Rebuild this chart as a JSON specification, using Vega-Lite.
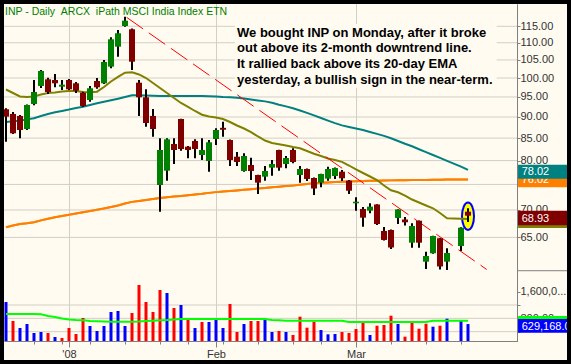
{
  "$schema": "https://vega.github.io/schema/vega-lite/v6.json",
  "width": 513,
  "height": 337,
  "autosize": {"type": "none"},
  "padding": {"left": 4, "top": 4, "right": 54, "bottom": 23},
  "background": "#FFFBF0",
  "config": {"view": {"stroke": null}},
  "datasets": {
    "d": [
      {"i":0,"o":91.90,"h":92.14,"l":84.19,"c":90.08,"v":1290000,"dir":"up","ema":96.94,"m50":88.79,"m200":66.80,"vma":930000},
      {"i":1,"o":90.74,"h":91.23,"l":85.96,"c":86.12,"v":720000,"dir":"down","ema":96.03,"m50":88.96,"m200":67.11,"vma":930000},
      {"i":2,"o":90.25,"h":90.49,"l":84.96,"c":86.89,"v":510000,"dir":"up","ema":95.13,"m50":89.10,"m200":67.40,"vma":930000},
      {"i":3,"o":87.13,"h":93.10,"l":86.89,"c":92.97,"v":630000,"dir":"up","ema":95.00,"m50":89.42,"m200":67.55,"vma":930000},
      {"i":4,"o":93.22,"h":99.46,"l":92.90,"c":96.29,"v":360000,"dir":"up","ema":95.13,"m50":89.71,"m200":67.73,"vma":930000},
      {"i":5,"o":97.87,"h":102.20,"l":97.34,"c":101.92,"v":390000,"dir":"up","ema":95.64,"m50":90.25,"m200":68.06,"vma":921000},
      {"i":6,"o":99.65,"h":100.09,"l":95.77,"c":96.29,"v":360000,"dir":"down","ema":96.03,"m50":90.74,"m200":68.35,"vma":870000},
      {"i":7,"o":99.46,"h":101.09,"l":97.52,"c":98.58,"v":240000,"dir":"up","ema":96.16,"m50":91.15,"m200":68.63,"vma":840000},
      {"i":8,"o":97.68,"h":99.46,"l":96.81,"c":98.21,"v":210000,"dir":"down","ema":96.42,"m50":91.47,"m200":68.87,"vma":795000},
      {"i":9,"o":99.46,"h":99.73,"l":96.81,"c":96.99,"v":510000,"dir":"down","ema":96.55,"m50":91.82,"m200":69.12,"vma":765000},
      {"i":10,"o":98.58,"h":98.93,"l":96.03,"c":96.63,"v":330000,"dir":"down","ema":96.55,"m50":92.22,"m200":69.34,"vma":750000},
      {"i":11,"o":96.11,"h":96.37,"l":92.55,"c":92.72,"v":810000,"dir":"down","ema":96.29,"m50":92.55,"m200":69.57,"vma":741000},
      {"i":12,"o":94.23,"h":97.87,"l":93.80,"c":97.26,"v":570000,"dir":"up","ema":96.21,"m50":92.97,"m200":69.79,"vma":720000},
      {"i":13,"o":99.19,"h":100.00,"l":97.15,"c":97.52,"v":420000,"dir":"up","ema":96.37,"m50":93.40,"m200":70.04,"vma":711000},
      {"i":14,"o":98.58,"h":104.99,"l":98.40,"c":104.43,"v":570000,"dir":"up","ema":97.60,"m50":93.78,"m200":70.29,"vma":705000},
      {"i":15,"o":103.11,"h":111.64,"l":102.66,"c":111.03,"v":990000,"dir":"up","ema":99.06,"m50":94.15,"m200":70.57,"vma":699000},
      {"i":16,"o":108.83,"h":113.86,"l":105.93,"c":112.85,"v":1020000,"dir":"up","ema":100.28,"m50":94.54,"m200":70.86,"vma":699000},
      {"i":17,"o":115.09,"h":118.03,"l":114.88,"c":116.76,"v":570000,"dir":"up","ema":101.45,"m50":95.00,"m200":71.22,"vma":699000},
      {"i":18,"o":114.08,"h":114.30,"l":102.19,"c":104.51,"v":960000,"dir":"down","ema":101.56,"m50":95.46,"m200":71.55,"vma":699000},
      {"i":19,"o":98.74,"h":99.46,"l":90.25,"c":94.92,"v":1800000,"dir":"down","ema":100.96,"m50":95.43,"m200":71.74,"vma":705000},
      {"i":20,"o":94.92,"h":96.99,"l":87.67,"c":88.55,"v":1290000,"dir":"down","ema":100.00,"m50":95.38,"m200":71.93,"vma":720000},
      {"i":21,"o":90.25,"h":91.97,"l":85.34,"c":87.13,"v":990000,"dir":"down","ema":98.66,"m50":95.31,"m200":72.11,"vma":729000},
      {"i":22,"o":74.89,"h":84.96,"l":69.68,"c":82.32,"v":1650000,"dir":"down","ema":97.34,"m50":95.28,"m200":72.28,"vma":741000},
      {"i":23,"o":77.84,"h":84.96,"l":75.77,"c":84.73,"v":1560000,"dir":"up","ema":96.03,"m50":95.26,"m200":72.44,"vma":750000},
      {"i":24,"o":83.67,"h":84.96,"l":79.26,"c":82.32,"v":1110000,"dir":"down","ema":94.74,"m50":95.26,"m200":72.58,"vma":765000},
      {"i":25,"o":89.51,"h":89.60,"l":82.16,"c":82.54,"v":1200000,"dir":"up","ema":93.47,"m50":95.26,"m200":72.71,"vma":780000},
      {"i":26,"o":83.06,"h":83.22,"l":80.49,"c":82.32,"v":780000,"dir":"down","ema":92.47,"m50":95.26,"m200":72.85,"vma":780000},
      {"i":27,"o":84.34,"h":84.73,"l":80.49,"c":82.54,"v":510000,"dir":"up","ema":91.47,"m50":95.26,"m200":72.99,"vma":780000},
      {"i":28,"o":81.21,"h":84.96,"l":80.12,"c":82.32,"v":690000,"dir":"down","ema":90.56,"m50":95.26,"m200":73.13,"vma":780000},
      {"i":29,"o":79.91,"h":84.57,"l":77.63,"c":84.05,"v":690000,"dir":"up","ema":90.12,"m50":95.18,"m200":73.31,"vma":780000},
      {"i":30,"o":84.80,"h":87.29,"l":83.44,"c":86.89,"v":780000,"dir":"up","ema":89.86,"m50":95.10,"m200":73.46,"vma":780000},
      {"i":31,"o":87.40,"h":88.86,"l":85.34,"c":86.95,"v":510000,"dir":"up","ema":89.51,"m50":95.00,"m200":73.58,"vma":780000},
      {"i":32,"o":84.57,"h":84.70,"l":78.84,"c":80.12,"v":1230000,"dir":"down","ema":88.79,"m50":94.95,"m200":73.70,"vma":780000},
      {"i":33,"o":80.84,"h":81.88,"l":78.84,"c":79.69,"v":390000,"dir":"down","ema":87.95,"m50":94.82,"m200":73.80,"vma":780000},
      {"i":34,"o":77.78,"h":81.59,"l":77.63,"c":80.99,"v":630000,"dir":"up","ema":87.24,"m50":94.59,"m200":73.92,"vma":780000},
      {"i":35,"o":79.05,"h":80.62,"l":75.91,"c":77.78,"v":720000,"dir":"down","ema":86.38,"m50":94.33,"m200":74.04,"vma":780000},
      {"i":36,"o":76.94,"h":77.00,"l":73.09,"c":75.36,"v":720000,"dir":"down","ema":85.38,"m50":94.10,"m200":74.18,"vma":780000},
      {"i":37,"o":76.59,"h":78.84,"l":75.77,"c":77.78,"v":750000,"dir":"up","ema":84.46,"m50":93.88,"m200":74.30,"vma":780000},
      {"i":38,"o":78.48,"h":80.12,"l":76.80,"c":79.26,"v":390000,"dir":"up","ema":83.89,"m50":93.52,"m200":74.43,"vma":750000},
      {"i":39,"o":82.32,"h":82.40,"l":77.84,"c":78.48,"v":420000,"dir":"down","ema":83.60,"m50":93.02,"m200":74.55,"vma":741000},
      {"i":40,"o":79.26,"h":80.99,"l":78.35,"c":80.56,"v":390000,"dir":"up","ema":83.33,"m50":92.62,"m200":74.69,"vma":729000},
      {"i":41,"o":82.32,"h":82.70,"l":79.41,"c":79.69,"v":300000,"dir":"down","ema":82.99,"m50":92.14,"m200":74.81,"vma":729000},
      {"i":42,"o":76.94,"h":78.84,"l":75.36,"c":78.20,"v":849000,"dir":"down","ema":82.70,"m50":91.60,"m200":74.95,"vma":729000},
      {"i":43,"o":78.20,"h":78.30,"l":75.71,"c":76.12,"v":519000,"dir":"down","ema":82.10,"m50":91.01,"m200":75.11,"vma":729000},
      {"i":44,"o":76.32,"h":76.40,"l":72.89,"c":74.18,"v":699000,"dir":"down","ema":81.50,"m50":90.39,"m200":75.24,"vma":729000},
      {"i":45,"o":75.36,"h":77.20,"l":74.43,"c":77.15,"v":450000,"dir":"up","ema":80.99,"m50":89.76,"m200":75.34,"vma":729000},
      {"i":46,"o":76.18,"h":78.69,"l":75.77,"c":78.20,"v":321000,"dir":"up","ema":80.45,"m50":89.13,"m200":75.42,"vma":729000},
      {"i":47,"o":76.73,"h":78.50,"l":76.12,"c":78.41,"v":330000,"dir":"up","ema":80.12,"m50":88.53,"m200":75.50,"vma":729000},
      {"i":48,"o":77.63,"h":77.99,"l":75.71,"c":76.26,"v":390000,"dir":"down","ema":79.73,"m50":87.98,"m200":75.56,"vma":729000},
      {"i":49,"o":75.77,"h":75.91,"l":73.09,"c":73.74,"v":360000,"dir":"down","ema":78.94,"m50":87.62,"m200":75.60,"vma":690000},
      {"i":50,"o":71.28,"h":72.44,"l":69.87,"c":71.58,"v":480000,"dir":"down","ema":78.10,"m50":87.24,"m200":75.67,"vma":690000},
      {"i":51,"o":70.19,"h":70.57,"l":66.91,"c":68.56,"v":720000,"dir":"down","ema":77.36,"m50":86.89,"m200":75.71,"vma":690000},
      {"i":52,"o":69.87,"h":71.28,"l":69.38,"c":70.63,"v":300000,"dir":"up","ema":76.63,"m50":86.43,"m200":75.73,"vma":690000},
      {"i":53,"o":71.05,"h":71.10,"l":67.22,"c":67.40,"v":579000,"dir":"down","ema":75.91,"m50":85.99,"m200":75.77,"vma":690000},
      {"i":54,"o":66.14,"h":66.86,"l":64.46,"c":64.55,"v":600000,"dir":"down","ema":74.79,"m50":85.52,"m200":75.79,"vma":690000},
      {"i":55,"o":66.31,"h":66.40,"l":62.99,"c":63.25,"v":879000,"dir":"down","ema":73.82,"m50":84.96,"m200":75.83,"vma":690000},
      {"i":56,"o":68.50,"h":70.13,"l":67.40,"c":70.10,"v":630000,"dir":"up","ema":73.44,"m50":84.34,"m200":75.85,"vma":690000},
      {"i":57,"o":68.22,"h":68.69,"l":67.13,"c":67.71,"v":249000,"dir":"down","ema":72.79,"m50":83.71,"m200":75.87,"vma":690000},
      {"i":58,"o":64.08,"h":67.53,"l":63.22,"c":67.04,"v":690000,"dir":"down","ema":72.01,"m50":83.15,"m200":75.89,"vma":690000},
      {"i":59,"o":68.00,"h":68.05,"l":63.22,"c":64.08,"v":489000,"dir":"down","ema":71.43,"m50":82.48,"m200":75.91,"vma":690000},
      {"i":60,"o":60.87,"h":62.53,"l":59.68,"c":61.81,"v":639000,"dir":"down","ema":70.86,"m50":81.83,"m200":75.93,"vma":690000},
      {"i":61,"o":62.27,"h":65.30,"l":62.20,"c":65.25,"v":549000,"dir":"up","ema":70.32,"m50":81.21,"m200":75.95,"vma":729000},
      {"i":62,"o":64.85,"h":64.90,"l":59.60,"c":60.09,"v":579000,"dir":"down","ema":69.44,"m50":80.58,"m200":75.97,"vma":729000},
      {"i":63,"o":60.87,"h":63.11,"l":59.52,"c":62.32,"v":789000,"dir":"up","ema":68.45,"m50":79.95,"m200":75.99,"vma":729000},
      {"i":65,"o":63.51,"h":66.80,"l":62.65,"c":66.73,"v":750000,"dir":"up","ema":68.38,"m50":78.71,"m200":76.01,"vma":729000},
      {"i":66,"o":69.68,"h":70.32,"l":67.77,"c":68.93,"v":629168,"dir":"up","ema":68.32,"m50":78.02,"m200":76.02,"vma":729000}
    ],
    "trend": [
      {"i": 17.24, "p": 117.8},
      {"i": 68.67, "p": 59.6}
    ],
    "pgrid": [{"g":65},{"g":70},{"g":75},{"g":80},{"g":85},{"g":90},{"g":95},{"g":100},{"g":105},{"g":110},{"g":115}],
    "vgrid": [{"g":400000},{"g":800000},{"g":1200000}],
    "xgrid": [{"g":9},{"g":30},{"g":50}],
    "one": [{}]
  },
  "resolve": {"scale": {"x": "independent", "y": "independent"}},
  "layer": [
    {
      "data": {"name": "d"},
      "layer": [
        {
          "mark": {"type": "line", "color": "#FF8000", "strokeWidth": 2},
          "encoding": {
            "x": {"field": "i", "type": "quantitative", "scale": {"domain": [-0.2857143, 73], "nice": false, "zero": false, "padding": 0},
              "axis": {"orient": "bottom", "values": [9, 30, 50], "labelExpr": "datum.value == 9 ? \"'08\" : (datum.value == 30 ? 'Feb' : 'Mar')", "title": null, "grid": false, "tickSize": 6, "tickColor": "#808080", "domainColor": "#808080", "labelFont": "Liberation Sans", "labelFontSize": 11, "labelColor": "#333333", "labelPadding": 1, "labelFlush": false, "labelOverlap": false}},
            "y": {"field": "m200", "type": "quantitative", "scale": {"type": "log", "domain": [49.126, 122.14], "nice": false},
              "axis": {"orient": "right", "values": [65, 70, 75, 80, 85, 90, 95, 100, 105, 110, 115], "labelExpr": "datum.value == 75 ? '' : format(datum.value, '.2f')", "title": null, "grid": false, "tickSize": 3, "tickColor": "#808080", "domainColor": "#808080", "labelFont": "Liberation Sans", "labelFontSize": 11, "labelColor": "#333333", "labelPadding": 0, "labelFlush": false, "labelOverlap": false}}
          }
        },
        {
          "data": {"name": "pgrid"},
          "mark": {"type": "rule", "color": "#d2cfc6", "strokeWidth": 1},
          "encoding": {
            "y": {"field": "g", "type": "quantitative", "scale": {"type": "log", "domain": [49.126, 122.14], "nice": false}}
          }
        },
        {
          "data": {"name": "xgrid"},
          "mark": {"type": "rule", "color": "#d2cfc6", "strokeWidth": 1, "xOffset": 0.5},
          "encoding": {
            "x": {"field": "g", "type": "quantitative", "scale": {"domain": [-0.2857143, 73], "nice": false, "zero": false, "padding": 0}}
          }
        },
        {
          "data": {"name": "one"},
          "mark": {"type": "rect", "color": "#FFFBF0"},
          "encoding": {
            "x": {"datum": 32.7, "type": "quantitative", "scale": {"domain": [-0.2857143, 73], "nice": false, "zero": false, "padding": 0}},
            "x2": {"datum": 70.1},
            "y": {"datum": 115.7, "type": "quantitative", "scale": {"type": "log", "domain": [49.126, 122.14], "nice": false}},
            "y2": {"datum": 97.4}
          }
        },
        {
          "mark": {"type": "line", "color": "#FF8000", "strokeWidth": 2},
          "encoding": {
            "x": {"field": "i", "type": "quantitative", "scale": {"domain": [-0.2857143, 73], "nice": false, "zero": false, "padding": 0}},
            "y": {"field": "m200", "type": "quantitative", "scale": {"type": "log", "domain": [49.126, 122.14], "nice": false}}
          }
        },
        {
          "mark": {"type": "line", "color": "#008080", "strokeWidth": 2},
          "encoding": {
            "x": {"field": "i", "type": "quantitative", "scale": {"domain": [-0.2857143, 73], "nice": false, "zero": false, "padding": 0}},
            "y": {"field": "m50", "type": "quantitative", "scale": {"type": "log", "domain": [49.126, 122.14], "nice": false}}
          }
        },
        {
          "data": {"name": "one"},
          "mark": {"type": "point", "shape": "M0,-1A0.44,1,0,1,1,0,1A0.44,1,0,1,1,0,-1Z", "size": 745, "filled": true, "fill": "#FFFF00", "stroke": "#0000FF", "strokeWidth": 2, "opacity": 1},
          "encoding": {
            "x": {"datum": 66, "type": "quantitative", "scale": {"domain": [-0.2857143, 73], "nice": false, "zero": false, "padding": 0}},
            "y": {"datum": 68.82, "type": "quantitative", "scale": {"type": "log", "domain": [49.126, 122.14], "nice": false}}
          }
        },
        {
          "mark": {"type": "line", "color": "#808000", "strokeWidth": 2},
          "encoding": {
            "x": {"field": "i", "type": "quantitative", "scale": {"domain": [-0.2857143, 73], "nice": false, "zero": false, "padding": 0}},
            "y": {"field": "ema", "type": "quantitative", "scale": {"type": "log", "domain": [49.126, 122.14], "nice": false}}
          }
        },
        {
          "data": {"name": "trend"},
          "mark": {"type": "line", "color": "#FF0000", "strokeWidth": 1, "strokeDash": [20, 7]},
          "encoding": {
            "x": {"field": "i", "type": "quantitative", "scale": {"domain": [-0.2857143, 73], "nice": false, "zero": false, "padding": 0}},
            "y": {"field": "p", "type": "quantitative", "scale": {"type": "log", "domain": [49.126, 122.14], "nice": false}}
          }
        },
        {
          "mark": {"type": "rule", "color": "#000000", "strokeWidth": 2},
          "encoding": {
            "x": {"field": "i", "type": "quantitative", "scale": {"domain": [-0.2857143, 73], "nice": false, "zero": false, "padding": 0}},
            "y": {"field": "l", "type": "quantitative", "scale": {"type": "log", "domain": [49.126, 122.14], "nice": false}},
            "y2": {"field": "h"}
          }
        },
        {
          "mark": {"type": "bar", "size": 6},
          "encoding": {
            "x": {"field": "i", "type": "quantitative", "scale": {"domain": [-0.2857143, 73], "nice": false, "zero": false, "padding": 0}},
            "y": {"field": "o", "type": "quantitative", "scale": {"type": "log", "domain": [49.126, 122.14], "nice": false}},
            "y2": {"field": "c"},
            "color": {"condition": {"test": "datum.c >= datum.o", "value": "#008000"}, "value": "#800000"}
          }
        },
        {
          "data": {"name": "one"},
          "mark": {"type": "rule", "color": "#808080", "strokeWidth": 1},
          "encoding": {
            "x": {"datum": 73, "type": "quantitative", "scale": {"domain": [-0.2857143, 73], "nice": false, "zero": false, "padding": 0}},
            "x2": {"datum": 81},
            "y": {"datum": 59.4, "type": "quantitative", "scale": {"type": "log", "domain": [49.126, 122.14], "nice": false}}
          }
        },
        {
          "data": {"name": "one"},
          "mark": {"type": "rect", "color": "#FF8000"},
          "encoding": {
            "x": {"datum": 73.15, "type": "quantitative", "scale": {"domain": [-0.2857143, 73], "nice": false, "zero": false, "padding": 0}},
            "x2": {"datum": 81},
            "y": {"datum": 77.29, "type": "quantitative", "scale": {"type": "log", "domain": [49.126, 122.14], "nice": false}},
            "y2": {"datum": 74.43}
          }
        },
        {
          "data": {"name": "one"},
          "mark": {"type": "text", "text": "76.02", "color": "#FFFFFF", "font": "Liberation Sans", "fontSize": 11, "align": "left", "baseline": "middle"},
          "encoding": {
            "x": {"datum": 73.67, "type": "quantitative", "scale": {"domain": [-0.2857143, 73], "nice": false, "zero": false, "padding": 0}},
            "y": {"datum": 75.81, "type": "quantitative", "scale": {"type": "log", "domain": [49.126, 122.14], "nice": false}}
          }
        },
        {
          "data": {"name": "one"},
          "mark": {"type": "rect", "color": "#008080"},
          "encoding": {
            "x": {"datum": 73.15, "type": "quantitative", "scale": {"domain": [-0.2857143, 73], "nice": false, "zero": false, "padding": 0}},
            "x2": {"datum": 81},
            "y": {"datum": 79.11, "type": "quantitative", "scale": {"type": "log", "domain": [49.126, 122.14], "nice": false}},
            "y2": {"datum": 76.18}
          }
        },
        {
          "data": {"name": "one"},
          "mark": {"type": "text", "text": "78.02", "color": "#FFFFFF", "font": "Liberation Sans", "fontSize": 11, "align": "left", "baseline": "middle"},
          "encoding": {
            "x": {"datum": 73.67, "type": "quantitative", "scale": {"domain": [-0.2857143, 73], "nice": false, "zero": false, "padding": 0}},
            "y": {"datum": 77.57, "type": "quantitative", "scale": {"type": "log", "domain": [49.126, 122.14], "nice": false}}
          }
        },
        {
          "data": {"name": "one"},
          "mark": {"type": "rect", "color": "#808000"},
          "encoding": {
            "x": {"datum": 73.15, "type": "quantitative", "scale": {"domain": [-0.2857143, 73], "nice": false, "zero": false, "padding": 0}},
            "x2": {"datum": 81},
            "y": {"datum": 69.24, "type": "quantitative", "scale": {"type": "log", "domain": [49.126, 122.14], "nice": false}},
            "y2": {"datum": 66.67}
          }
        },
        {
          "data": {"name": "one"},
          "mark": {"type": "rect", "color": "#800000"},
          "encoding": {
            "x": {"datum": 73.15, "type": "quantitative", "scale": {"domain": [-0.2857143, 73], "nice": false, "zero": false, "padding": 0}},
            "x2": {"datum": 81},
            "y": {"datum": 69.86, "type": "quantitative", "scale": {"type": "log", "domain": [49.126, 122.14], "nice": false}},
            "y2": {"datum": 67.16}
          }
        },
        {
          "data": {"name": "one"},
          "mark": {"type": "text", "text": "68.93", "color": "#FFFFFF", "font": "Liberation Sans", "fontSize": 11, "align": "left", "baseline": "middle"},
          "encoding": {
            "x": {"datum": 73.67, "type": "quantitative", "scale": {"domain": [-0.2857143, 73], "nice": false, "zero": false, "padding": 0}},
            "y": {"datum": 68.37, "type": "quantitative", "scale": {"type": "log", "domain": [49.126, 122.14], "nice": false}}
          }
        },
        {
          "data": {"name": "one"},
          "mark": {"type": "text", "text": "INP - Daily \u00a0ARCX \u00a0iPath MSCI India Index ETN", "color": "#008000", "font": "Liberation Sans", "fontSize": 10.5, "align": "left", "baseline": "middle"},
          "encoding": {
            "x": {"datum": -0.143, "type": "quantitative", "scale": {"domain": [-0.2857143, 73], "nice": false, "zero": false, "padding": 0}},
            "y": {"datum": 119.53, "type": "quantitative", "scale": {"type": "log", "domain": [49.126, 122.14], "nice": false}}
          }
        },
        {
          "data": {"name": "one"},
          "mark": {"type": "text", "text": ["We bought INP on Monday, after it broke", "out above its 2-month downtrend line.", "It rallied back above its 20-day EMA", "yesterday, a bullish sign in the near-term."], "color": "#000000", "font": "Liberation Sans", "fontWeight": "bold", "fontSize": 13, "lineHeight": 15.67, "align": "left", "baseline": "alphabetic"},
          "encoding": {
            "x": {"datum": 33, "type": "quantitative", "scale": {"domain": [-0.2857143, 73], "nice": false, "zero": false, "padding": 0}},
            "y": {"datum": 111.82, "type": "quantitative", "scale": {"type": "log", "domain": [49.126, 122.14], "nice": false}}
          }
        }
      ]
    },
    {
      "data": {"name": "d"},
      "layer": [
        {
          "mark": {"type": "bar", "size": 3, "opacity": 0},
          "encoding": {
            "x": {"field": "i", "type": "quantitative", "scale": {"domain": [-0.2857143, 73], "nice": false, "zero": false, "padding": 0},
              "axis": {"orient": "bottom", "values": [4, 8, 12, 17, 22, 26, 31, 36, 41, 45, 55, 60, 65], "labels": false, "title": null, "grid": false, "tickSize": 3, "tickColor": "#808080", "domainColor": "#808080"}},
            "y": {"field": "v", "type": "quantitative", "scale": {"domain": [120000, 10230000], "nice": false, "zero": false},
              "axis": {"orient": "right", "values": [400000, 800000, 1200000, 1600000], "labelExpr": "datum.value == 1600000 ? '1,600,0...' : (datum.value == 800000 ? '800,00...' : '')", "title": null, "grid": false, "tickSize": 3, "tickColor": "#808080", "domainColor": "#808080", "labelFont": "Liberation Sans", "labelFontSize": 11, "labelColor": "#333333", "labelPadding": 0, "labelFlush": false, "labelOverlap": false}},
            "y2": {"datum": 120000}
          }
        },
        {
          "data": {"name": "vgrid"},
          "mark": {"type": "rule", "color": "#d2cfc6", "strokeWidth": 1},
          "encoding": {
            "y": {"field": "g", "type": "quantitative", "scale": {"domain": [120000, 10230000], "nice": false, "zero": false}}
          }
        },
        {
          "mark": {"type": "bar", "size": 3},
          "encoding": {
            "x": {"field": "i", "type": "quantitative", "scale": {"domain": [-0.2857143, 73], "nice": false, "zero": false, "padding": 0}},
            "y": {"field": "v", "type": "quantitative", "scale": {"domain": [120000, 10230000], "nice": false, "zero": false}},
            "y2": {"datum": 120000},
            "color": {"field": "dir", "type": "nominal", "scale": {"domain": ["up", "down"], "range": ["#0000FF", "#FF0000"]}, "legend": null}
          }
        },
        {
          "mark": {"type": "line", "color": "#00FF00", "strokeWidth": 2},
          "encoding": {
            "x": {"field": "i", "type": "quantitative", "scale": {"domain": [-0.2857143, 73], "nice": false, "zero": false, "padding": 0}},
            "y": {"field": "vma", "type": "quantitative", "scale": {"domain": [120000, 10230000], "nice": false, "zero": false}}
          }
        },
        {
          "data": {"name": "one"},
          "mark": {"type": "rect", "color": "#00FF00"},
          "encoding": {
            "x": {"datum": 73.15, "type": "quantitative", "scale": {"domain": [-0.2857143, 73], "nice": false, "zero": false, "padding": 0}},
            "x2": {"datum": 81},
            "y": {"datum": 870000, "type": "quantitative", "scale": {"domain": [120000, 10230000], "nice": false, "zero": false}},
            "y2": {"datum": 450000}
          }
        },
        {
          "data": {"name": "one"},
          "mark": {"type": "rect", "color": "#0000FF"},
          "encoding": {
            "x": {"datum": 73.15, "type": "quantitative", "scale": {"domain": [-0.2857143, 73], "nice": false, "zero": false, "padding": 0}},
            "x2": {"datum": 81},
            "y": {"datum": 780000, "type": "quantitative", "scale": {"domain": [120000, 10230000], "nice": false, "zero": false}},
            "y2": {"datum": 369000}
          }
        },
        {
          "data": {"name": "one"},
          "mark": {"type": "text", "text": "629,168.0", "color": "#FFFFFF", "font": "Liberation Sans", "fontSize": 11, "align": "left", "baseline": "middle"},
          "encoding": {
            "x": {"datum": 73.67, "type": "quantitative", "scale": {"domain": [-0.2857143, 73], "nice": false, "zero": false, "padding": 0}},
            "y": {"datum": 540000, "type": "quantitative", "scale": {"domain": [120000, 10230000], "nice": false, "zero": false}}
          }
        },
        {
          "data": {"name": "one"},
          "mark": {"type": "rect", "filled": false, "color": "#000000", "stroke": "#000000", "strokeWidth": 8},
          "encoding": {
            "x": {"datum": -0.857, "type": "quantitative", "scale": {"domain": [-0.2857143, 73], "nice": false, "zero": false, "padding": 0}},
            "x2": {"datum": 80.714},
            "y": {"datum": 10350000, "type": "quantitative", "scale": {"domain": [120000, 10230000], "nice": false, "zero": false}},
            "y2": {"datum": -570000}
          }
        }
      ]
    }
  ]
}
